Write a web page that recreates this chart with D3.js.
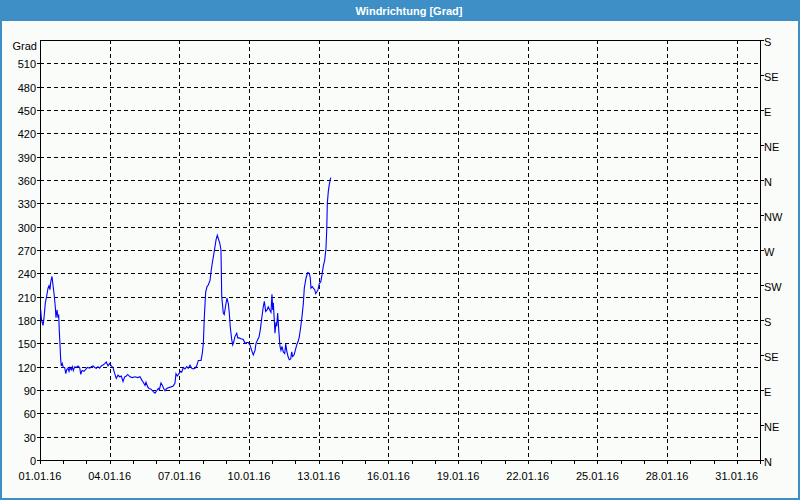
<!DOCTYPE html>
<html><head><meta charset="utf-8">
<script src="https://cdn.jsdelivr.net/npm/d3@7"></script>
<style>
html,body{margin:0;padding:0;background:#f9fcf9;}
svg{display:block;}
text{font-family:"Liberation Sans",Arial,sans-serif;font-size:11px;fill:#000;}
</style></head><body>
<svg id="c" width="800" height="500"></svg>
<script>
const title = "Windrichtung [Grad]";
const unitLabel = "Grad";
const startDate = Date.UTC(2016,0,1);
const endDate = Date.UTC(2016,1,1);
const leftTicks = [0,30,60,90,120,150,180,210,240,270,300,330,360,390,420,450,480,510];
const rightTickValues = [0,45,90,135,180,225,270,315,360,405,450,495,540];
const rightTickLabels = ["N","NE","E","SE","S","SW","W","NW","N","NE","E","SE","S"];
const dateTickDays = [1,4,7,10,13,16,19,22,25,28,31];
// hours since 01.01.16 00:00
const hours = [0.7,1.6,3.1,4.1,5.5,6.5,8.3,9.3,10.3,11.1,12.4,13.4,14.5,15.8,16.5,17.6,18.6,19.3,19.9,20.7,21.4,22.0,23.0,24.1,25.5,26.6,27.6,28.9,30.0,31.0,32.3,33.4,34.4,35.9,37.5,39.3,41.0,42.1,43.4,45.5,46.8,48.9,51.4,53.0,54.8,56.5,58.2,59.9,61.7,63.3,65.1,66.9,68.5,70.3,72.0,73.7,75.4,77.2,78.8,80.6,82.4,84.0,85.8,87.5,89.2,90.6,93.0,95.4,98.2,101.0,103.3,105.1,106.7,108.5,109.5,111.3,112.6,114.7,117.1,118.8,120.6,122.2,123.3,125.0,126.4,127.8,129.2,130.9,132.6,135.4,137.7,139.5,140.5,141.9,143.6,145.0,146.4,148.1,149.8,151.6,153.2,155.0,156.8,158.4,160.2,161.9,163.6,166.4,167.7,168.8,169.8,171.2,172.6,173.9,175.7,176.7,178.0,179.5,180.8,181.9,183.2,184.2,185.7,187.0,187.8,189.4,190.4,191.9,193.2,194.6,195.6,196.6,198.1,199.1,200.2,201.5,203.3,204.3,205.6,207.7,210.1,211.8,213.6,215.2,217.0,218.7,220.4,222.2,223.2,225.0,226.3,227.6,229.1,230.7,231.8,233.2,234.6,235.9,237.4,238.7,239.7,240.5,241.1,242.1,242.8,243.9,244.6,245.6,246.7,248.0,249.0,250.1,251.4,252.9,253.9,254.9,256.3,257.6,259.1,260.1,261.1,262.5,263.8,265.3,266.6,267.9,269.4,270.7,272.1,273.1,274.9,276.6,278.3,279.3,280.0,281.4,282.4,283.9,284.9,285.9,287.3,288.6,290.1,291.4,292.7,294.2,295.5,296.3,296.9,297.9,298.9,300.4];
const degrees = [193,180,173,182,202,208,221,224,219,229,236,225,214,197,183,193,183,187,167,148,129,121,124,119,119,111,116,118,114,119,116,120,115,120,119,121,119,110,115,114,116,119,118,120,121,119,118,120,118,121,122,124,126,121,124,121,119,111,105,109,107,108,101,107,108,110,107,106,107,106,107,103,100,96,100,94,92,91,88,86,89,92,90,99,96,92,89,92,93,94,95,99,111,108,111,114,113,119,117,120,118,122,118,117,118,121,128,128,137,150,184,216,223,225,231,242,253,264,274,283,289,285,279,270,210,189,187,199,208,201,189,171,155,148,152,159,163,157,157,156,155,150,151,151,148,141,135,141,150,155,158,167,182,197,204,191,193,197,193,190,213,193,202,180,163,177,172,189,167,146,141,146,139,137,149,141,133,129,130,139,133,135,141,148,152,158,171,184,201,221,234,241,240,234,221,223,221,219,214,216,219,227,229,238,249,257,272,296,330,345,354,363];

const svg = d3.select("#c");
const W = 800, H = 500;
const L = 40, R = 760, T = 40, B = 460;
const x = d3.scaleUtc().domain([startDate, endDate]).range([L, R]);
const y = d3.scaleLinear().domain([0, 540]).range([B, T]);
const px = v => Math.round(v) + 0.5;

svg.append("rect").attr("x",0).attr("y",0).attr("width",W).attr("height",H).attr("fill","#f9fcf9");
// title bar
svg.append("rect").attr("x",0).attr("y",0).attr("width",W).attr("height",21).attr("fill","#3d8fc6");
svg.append("text").attr("x",409).attr("y",15).attr("text-anchor","middle")
  .style("fill","#fff").style("font-weight","bold").text(title);
// outer border
svg.append("rect").attr("x",1).attr("y",1).attr("width",W-2).attr("height",H-2)
  .attr("fill","none").attr("stroke","#3d8fc6").attr("stroke-width",2);

const g = svg.append("g").attr("shape-rendering","crispEdges");
// horizontal grid
g.selectAll("line.hg").data(leftTicks.filter(d=>d>0)).enter().append("line")
  .attr("x1",L).attr("x2",R).attr("y1",d=>px(y(d))).attr("y2",d=>px(y(d)))
  .attr("stroke","#000").attr("stroke-dasharray","4,3");
// vertical grid
const gridDates = dateTickDays.filter(d=>d>1).map(d=>new Date(Date.UTC(2016,0,d)));
g.selectAll("line.vg").data(gridDates).enter().append("line")
  .attr("x1",d=>px(x(d))).attr("x2",d=>px(x(d))).attr("y1",T).attr("y2",B)
  .attr("stroke","#000").attr("stroke-dasharray","4,3");

// frame
g.append("rect").attr("x",L+0.5).attr("y",T+0.5).attr("width",R-L).attr("height",B-T)
  .attr("fill","none").attr("stroke","#000");

// left ticks
g.selectAll("line.lt").data(leftTicks).enter().append("line")
  .attr("x1",L-3).attr("x2",L).attr("y1",d=>px(y(d))).attr("y2",d=>px(y(d))).attr("stroke","#000");
svg.selectAll("text.lt").data(leftTicks).enter().append("text")
  .attr("x",36).attr("y",d=>Math.round(y(d))+5).attr("text-anchor","end").text(d=>d);
svg.append("text").attr("x",37).attr("y",Math.round(y(540))+10).attr("text-anchor","end").text(unitLabel);

// right ticks
g.selectAll("line.rt").data(rightTickValues).enter().append("line")
  .attr("x1",R).attr("x2",R+4).attr("y1",d=>px(y(d))).attr("y2",d=>px(y(d))).attr("stroke","#000");
svg.selectAll("text.rt").data(rightTickValues).enter().append("text")
  .attr("x",764).attr("y",d=>Math.round(y(d))+6).text((d,i)=>rightTickLabels[i]);

// x day ticks
const dayTicks = d3.utcDay.range(new Date(startDate), new Date(endDate+1));
g.selectAll("line.xt").data(dayTicks).enter().append("line")
  .attr("x1",d=>px(x(d))).attr("x2",d=>px(x(d))).attr("y1",B).attr("y2",B+4).attr("stroke","#000");
const fmt = d3.utcFormat("%d.%m.%y");
svg.selectAll("text.xl").data(dateTickDays.map(d=>new Date(Date.UTC(2016,0,d)))).enter().append("text")
  .attr("x",d=>x(d)).attr("y",480).attr("text-anchor","middle").text(d=>fmt(d));

// data line
const pts = hours.map((h,i)=>({t:new Date(startDate + h*3600e3), v:degrees[i]}));
const line = d3.line().x(d=>x(d.t)).y(d=>y(d.v));
svg.append("path").datum(pts).attr("d",line).attr("fill","none")
  .attr("stroke","#0000ff").attr("stroke-width",1.1);
</script></body></html>
